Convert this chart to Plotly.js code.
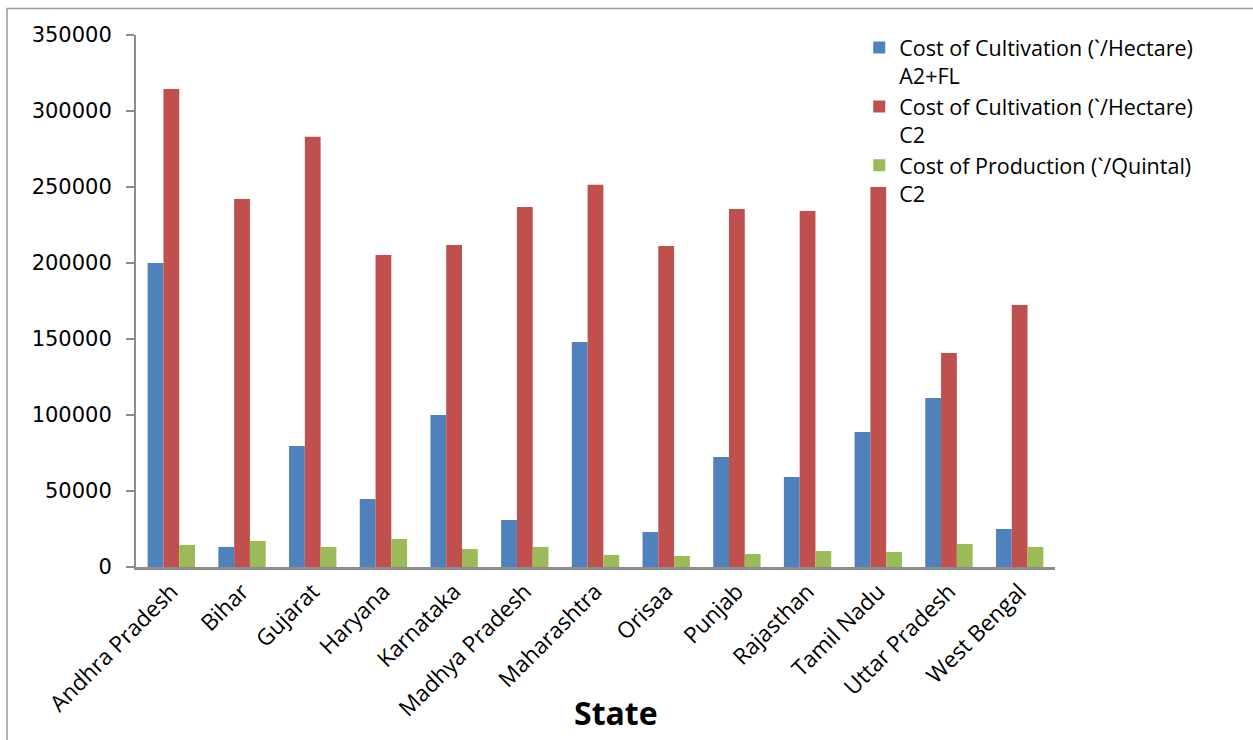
<!DOCTYPE html>
<html>
<head>
<meta charset="utf-8">
<script src="https://cdn.plot.ly/plotly-3.0.1.min.js"></script>
<style>
html,body{margin:0;padding:0;background:#fff;}
#chart{width:1253px;height:740px;}
</style>
</head>
<body>
<div id="chart"></div>
<script>
const states = ["Andhra Pradesh","Bihar","Gujarat","Haryana","Karnataka","Madhya Pradesh","Maharashtra","Orisaa","Punjab","Rajasthan","Tamil Nadu","Uttar Pradesh","West Bengal"];
const costCultA2FL = [200000,13200,79600,44700,100000,30900,148000,23000,72400,59200,88800,111200,25000];
const costCultC2 = [314500,242100,283000,205300,211900,236900,251400,211200,235600,234200,250000,140800,172400];
const costProdC2 = [14500,17100,13200,18400,11800,13200,7900,7200,8600,10500,9900,15100,13200];
const seriesNames = ["Cost of Cultivation (`/Hectare)<br>A2+FL","Cost of Cultivation (`/Hectare)<br>C2","Cost of Production (`/Quintal)<br>C2"];
const yTicks = [0,50000,100000,150000,200000,250000,300000,350000];

const colors = ["#4F81BD","#C0504D","#9BBB59"];
const data = [costCultA2FL, costCultC2, costProdC2].map((v,i)=>({
  type:"bar", x:states, y:v, name:seriesNames[i], marker:{color:colors[i]}
}));

const layout = {
  width:1253, height:740,
  margin:{l:136,r:198,t:35,b:173},
  paper_bgcolor:"#fff", plot_bgcolor:"rgba(0,0,0,0)",
  barmode:"group", bargap:0.33, bargroupgap:0,
  font:{family:"'Open Sans', sans-serif", color:"#000", size:21},
  xaxis:{
    type:"category", tickangle:-45, showline:true, linecolor:"#8c8c8c", linewidth:2.5,
    ticks:"", showgrid:false, tickfont:{size:22.5}, automargin:false
  },
  yaxis:{
    range:[0,350000], tickvals:yTicks, ticktext:yTicks.map(String),
    showline:true, linecolor:"#8c8c8c", linewidth:2, ticks:"outside", ticklen:8,
    tickcolor:"#8c8c8c", tickwidth:2, showgrid:false, zeroline:false,
    ticklabelstandoff:10,
    tickfont:{family:"'DejaVu Sans', sans-serif", size:21}, automargin:false
  },
  legend:{x:0.787, y:1.015, xanchor:"left", yanchor:"top", bgcolor:"rgba(0,0,0,0)",
    font:{size:21.5}, tracegroupgap:0, valign:"top"},
  annotations:[{text:"<b>State</b>", xref:"paper", yref:"paper", x:0.522, y:-0.2726,
    showarrow:false, font:{size:32}, xanchor:"center", yanchor:"middle"}],
  shapes:[{type:"rect", xref:"paper", yref:"paper", x0:-0.1404, x1:1.4, y0:-0.6, y1:1.05,
    line:{color:"#9a9a9a", width:1.5}, fillcolor:"rgba(0,0,0,0)", layer:"below"}],
  showlegend:true
};
Plotly.newPlot("chart", data, layout, {displayModeBar:false, staticPlot:true});
</script>
</body>
</html>
